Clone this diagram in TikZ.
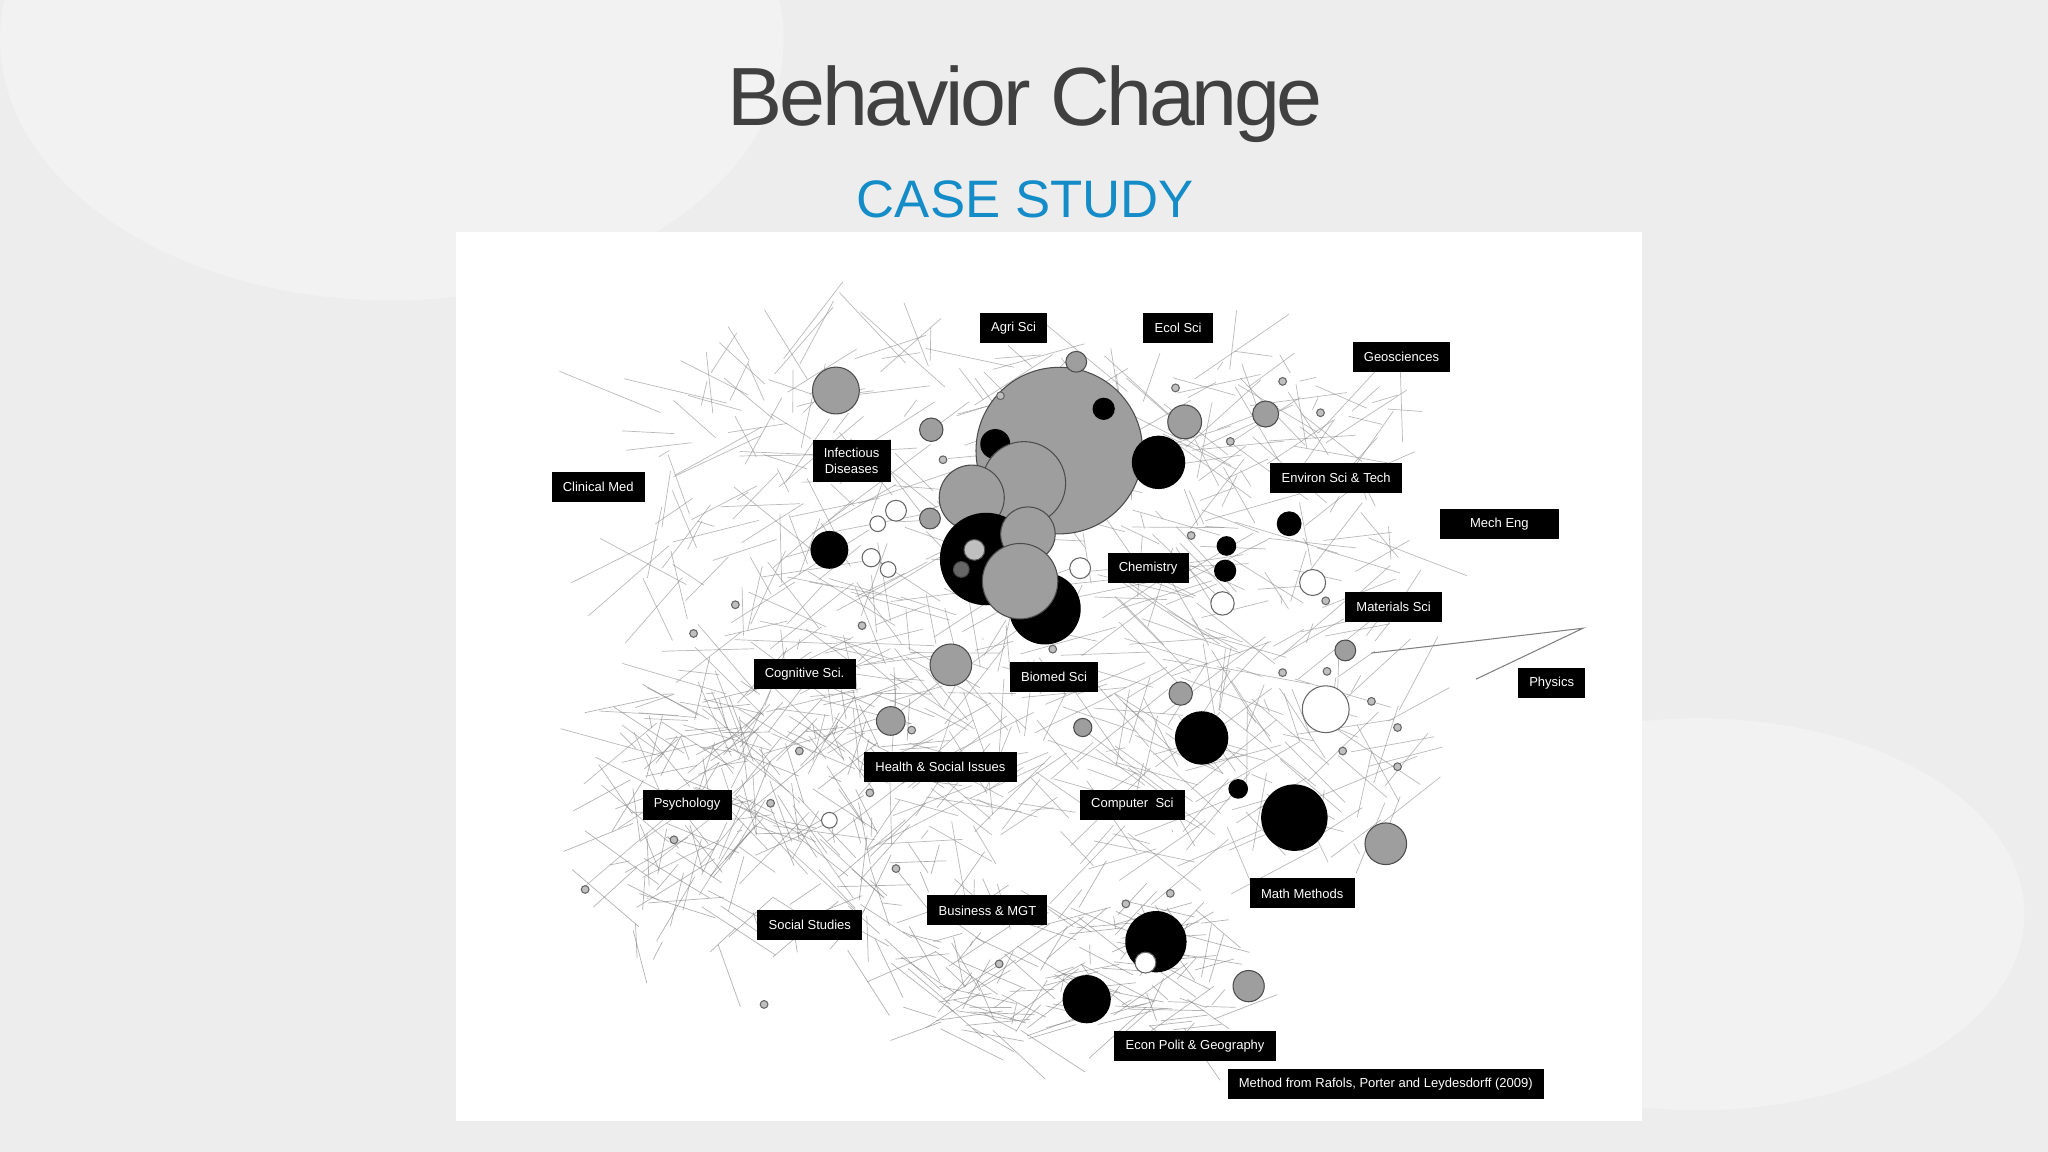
\documentclass[tikz,border=0pt]{standalone}
\usepackage{fontspec}
\setmainfont{Liberation Sans}
\begin{document}
\begin{tikzpicture}[x=0.013061cm,y=-0.013061cm,
  lab/.style={fill=black,text=white,font=\fontsize{3.7}{4.4}\selectfont,inner xsep=3.2pt,inner ysep=2.4pt,minimum height=8.5pt,align=center},
  d/.style={minimum size=#1*0.3702pt},
  gc/.style={circle,draw=black!70,line width=0.3pt,fill=black!38,inner sep=0pt},
  bc/.style={circle,draw=black,fill=black,inner sep=0pt},
  wc/.style={circle,draw=black!60,line width=0.3pt,fill=white,inner sep=0pt},
  sc/.style={circle,draw=black!60,line width=0.3pt,fill=black!25,inner sep=0pt,minimum size=2.2pt}]
\fill[black!7] (0,0) rectangle (1568,882);
\useasboundingbox (0,0) rectangle (1568,882);
\fill[black!5] (300,30) ellipse (300 and 200);
\fill[black!5] (1300,700) ellipse (250 and 150);
\node[font=\fontsize{23.5}{26}\selectfont,text=black!75] (title) at (785,80) {\addfontfeatures{LetterSpace=-4}Behavior Change};
\node[font=\fontsize{15}{18}\selectfont,text={rgb,255:red,20;green,140;blue,200}] (sub) at (785,153) {CASE STUDY};
\fill[white] (349,178) rectangle (1257,858);
% mesh
\pgfmathsetseed{7}
\foreach \i in {1,...,650}{
  \pgfmathsetmacro{\ax}{790+290*rand}
  \pgfmathsetmacro{\ay}{460+190*rand}
  \pgfmathsetmacro{\bx}{\ax+80*rand}
  \pgfmathsetmacro{\by}{\ay+60*rand}
  \draw[black!45,line width=0.2pt,opacity=0.6] (\ax,\ay) -- (\bx,\by);
}
\foreach \i in {1,...,200}{
  \pgfmathsetmacro{\ax}{600+120*rand}
  \pgfmathsetmacro{\ay}{630+100*rand}
  \pgfmathsetmacro{\bx}{\ax+60*rand}
  \pgfmathsetmacro{\by}{\ay+50*rand}
  \draw[black!50,line width=0.2pt,opacity=0.6] (\ax,\ay) -- (\bx,\by);
}
\foreach \i in {1,...,160}{
  \pgfmathsetmacro{\ax}{820+110*rand}
  \pgfmathsetmacro{\ay}{740+50*rand}
  \pgfmathsetmacro{\bx}{\ax+60*rand}
  \pgfmathsetmacro{\by}{\ay+40*rand}
  \draw[black!50,line width=0.2pt,opacity=0.6] (\ax,\ay) -- (\bx,\by);
}
\coordinate (p1) at (1130,520); \coordinate (p2) at (1212,481);
\draw[black!50,line width=0.3pt] (p1) -- (p2) -- (1050,500);
% circles
\node[gc,d=128] (c1) at (811,345) {};
\node[gc,d=36] at (640,299) {};
\node[bc,d=16] at (845,313) {};
\node[gc,d=26] at (907,323) {};
\node[gc,d=18] at (713,329) {};
\node[bc,d=40] at (887,354) {};
\node[bc,d=22] at (762,340) {};
\node[gc,d=64] at (784,370) {};
\node[gc,d=50] at (744,381) {};
\node[wc,d=16] at (686,391) {};
\node[wc,d=12] at (672,401) {};
\node[gc,d=16] at (712,397) {};
\node[bc,d=28] at (635,421) {};
\node[bc,d=70] at (755,428) {};
\node[gc,fill=black!25,d=16] at (746,421) {};
\node[gc,fill=black!60,d=12] at (736,436) {};
\node[bc,d=54] at (800,466) {};
\node[gc,d=42] at (787,409) {};
\node[gc,d=58] at (781,445) {};
\node[wc,d=14] at (667,427) {};
\node[wc,d=12] at (680,436) {};
\node[wc,d=16] at (827,435) {};
\node[gc,d=20] at (969,317) {};
\node[gc,d=16] at (824,277) {};
\node[bc,d=18] at (987,401) {};
\node[bc,d=14] at (939,418) {};
\node[bc,d=16] at (938,437) {};
\node[wc,d=20] at (1005,446) {};
\node[wc,d=18] at (936,462) {};
\node[gc,d=16] at (1030,498) {};
\node[wc,d=36] at (1015,543) {};
\node[gc,d=18] at (904,531) {};
\node[bc,d=40] at (920,565) {};
\node[bc,d=14] at (948,604) {};
\node[bc,d=50] at (991,626) {};
\node[gc,d=32] at (1061,646) {};
\node[gc,d=32] at (728,509) {};
\node[gc,d=22] at (682,552) {};
\node[gc,d=14] at (829,557) {};
\node[bc,d=46] at (885,721) {};
\node[wc,d=16] at (877,737) {};
\node[bc,d=36] at (832,765) {};
\node[gc,d=24] at (956,755) {};
\node[wc,d=12] at (635,628) {};
\foreach \x/\y in {531/485,563/463,660/479,612/575,698/559,666/607,590/615,516/643,448/681,686/665,746/698,862/692,896/684,765/738,585/769,806/497,912/410,942/338,982/292,1011/316,1016/514,1050/537,1070/557,1070/587,1028/575,1015/460,982/515,900/297,722/352,766/303}
  \node[sc] at (\x,\y) {};
% labels
\node[lab] (l1) at (776,251) {Agri Sci};
\node[lab] (l2) at (902,251) {Ecol Sci};
\node[lab] (l3) at (1073,273) {Geosciences};
\node[lab] (l4) at (652,353) {Infectious\\Diseases};
\node[lab] (l5) at (458,373) {Clinical Med};
\node[lab] (l6) at (1023,366) {Environ Sci \& Tech};
\node[lab,minimum width=34pt] (l7) at (1148,401) {Mech Eng};
\node[lab] (l8) at (879,435) {Chemistry};
\node[lab] (l9) at (1067,465) {Materials Sci};
\node[lab] (l10) at (1188,523) {Physics};
\node[lab] (l11) at (616,516) {Cognitive Sci.};
\node[lab] (l12) at (807,518) {Biomed Sci};
\node[lab] (l13) at (720,587) {Health \& Social Issues};
\node[lab] (l14) at (526,616) {Psychology};
\node[lab] (l15) at (867,616) {Computer\ \ Sci};
\node[lab] (l16) at (997,684) {Math Methods};
\node[lab] (l17) at (756,697) {Business \& MGT};
\node[lab] (l18) at (620,708) {Social Studies};
\node[lab] (l19) at (915,801) {Econ Polit \& Geography};
\node[lab] (l20) at (1061,830) {Method from Rafols, Porter and Leydesdorff (2009)};
\end{tikzpicture}
\end{document}
